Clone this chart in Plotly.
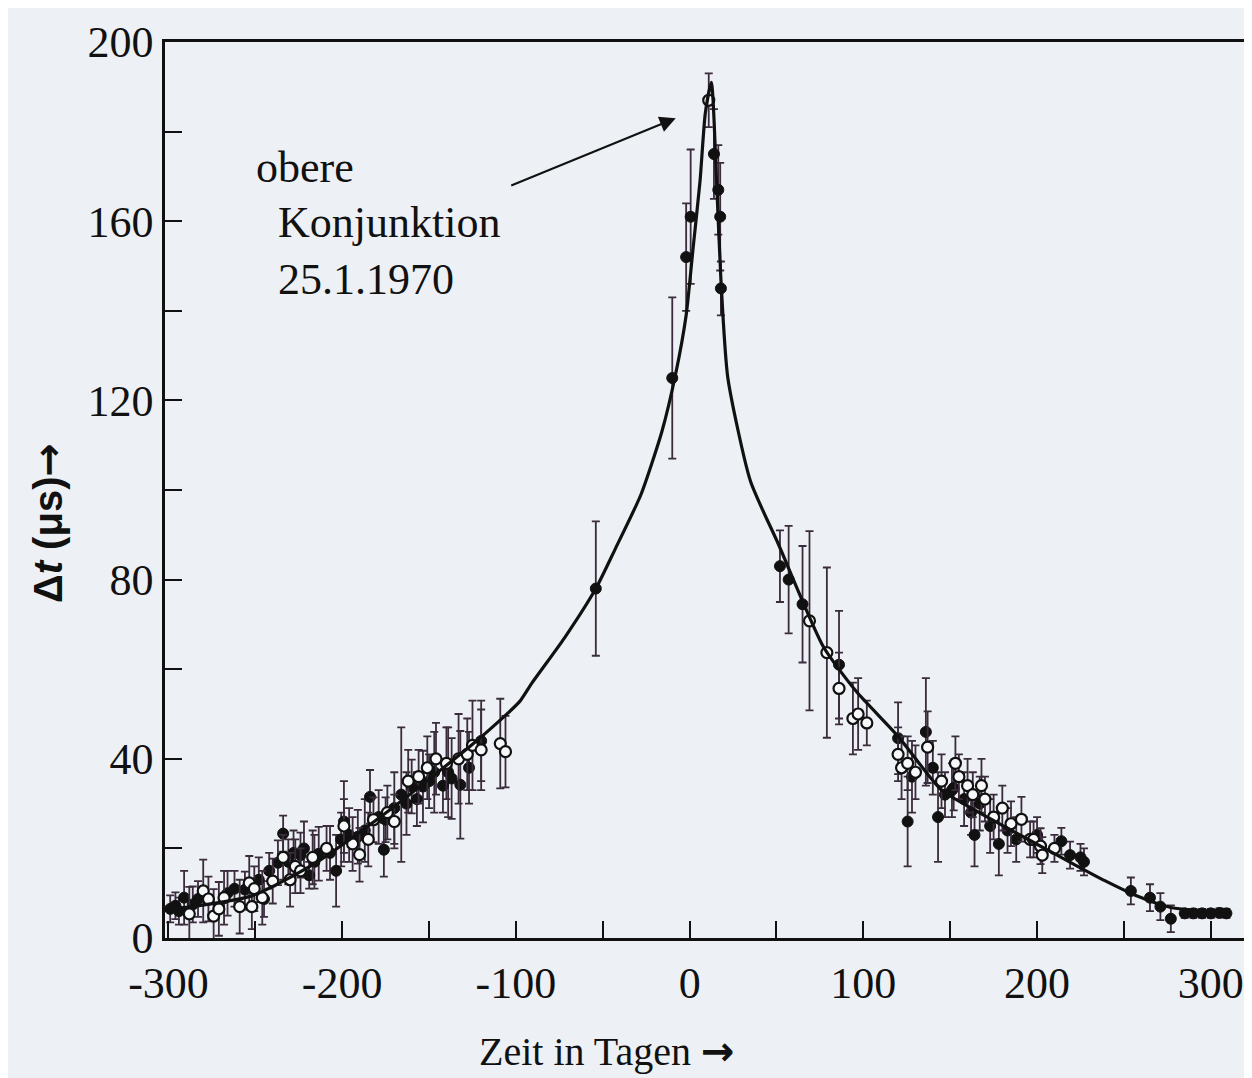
import plotly.graph_objects as go

# Theoretical curve
curve_x = [-300, -252, -216, -174, -126, -110, -98, -91, -72, -54, -43, -28, -16, -8, -2, 2, 6, 9, 12.5, 15.5, 18, 22, 35, 51, 77, 96, 120, 145, 164, 183, 201, 221, 239, 258, 277, 305]
curve_y = [6.3, 9.4, 16.6, 28.2, 42.9, 48.3, 52.7, 56.8, 67, 78, 86.7, 99, 113, 126, 139, 154, 169, 184, 191, 169, 147, 125, 102, 88, 65, 55, 45, 33, 28.6, 24.5, 20.7, 16.5, 12.8, 9.3, 6.8, 5.8]

# Filled-circle measurements
filled_x = [-299, -296, -294, -291, -286, -283, -266, -262, -256, -248, -245, -242, -237, -234, -231, -228, -224, -222, -219, -216, -213.5, -207, -203.5, -200.6, -199, -196, -191, -187, -184, -179, -176, -175, -170, -166, -163, -160, -157, -153.5, -150, -147, -142, -139, -137, -132, -127, -120, -54, -10, -2, 0.6, 14, 16.5, 17.6, 18, 52, 57, 65, 86, 120, 125.5, 128, 136, 140, 143, 147, 151, 152, 158, 162, 164, 167, 173, 178, 183, 188, 200, 214, 219, 225, 227, 254, 265, 271, 277, 285, 290, 295, 300, 305, 309]
filled_y = [6.5, 7.2, 6, 9, 7.5, 8.7, 10, 11, 10.8, 13, 8.7, 15, 16.8, 23.3, 17, 19, 18.5, 20, 14, 17, 18.8, 19, 15, 22, 26, 23, 22.6, 24, 31.5, 27, 19.7, 26.4, 29, 32, 30, 33.8, 31, 33.8, 35, 37, 34, 37, 35.6, 34.2, 38, 44, 78, 125, 152, 161, 175, 167, 161, 145, 83, 80, 74.5, 61, 44.6, 26, 36, 46, 38, 27, 32, 33, 33.5, 31, 28, 23, 30, 25, 21, 24, 22, 23, 21.6, 18.5, 18, 17, 10.5, 9, 7, 4.3, 5.5, 5.5, 5.5, 5.5, 5.6, 5.5]
filled_err = [3, 3, 3, 6, 4, 4, 5, 4, 4, 5, 4, 4, 5, 4, 5, 5, 5, 6, 3, 6, 6, 6, 8, 6, 9, 6, 6, 7, 6, 6, 6, 5, 8, 15, 7, 6, 6, 8, 6, 9, 6, 10, 9, 12, 8, 9, 15, 18, 12, 15, 10, 10, 12, 6, 8, 12, 13, 12, 8, 10, 8, 12, 6, 10, 5, 6, 5, 6, 5, 7, 6, 6, 7, 5, 5, 4, 3, 3, 3, 3, 3, 3, 3, 3, 1, 1, 1, 1, 1, 1]

# Open-circle measurements
open_x = [-288, -280, -277, -274, -271, -268, -259, -253.5, -252, -250.6, -246, -240, -234, -230, -227, -224, -217, -209, -199, -194, -190, -185, -182, -174, -170, -162, -156, -151, -146, -140, -133, -128, -125, -120, -109, -106, 11, 69, 79, 86, 94, 97, 102, 120, 122, 125.5, 130, 137, 145, 153, 155, 160, 163, 168, 170, 175, 180, 185, 191, 196, 198, 202, 203, 210]
open_y = [5.4, 10.5, 8.7, 4.9, 6.5, 9, 7, 12.3, 7, 11, 9, 12.7, 18, 13, 16, 15, 18, 20, 25, 21, 18.6, 22, 26.4, 28, 26, 35, 36, 38, 40, 39, 40, 41, 43, 42, 43.4, 41.6, 187, 70.8, 63.7, 55.7, 49, 50, 48, 41, 38, 39, 37, 42.6, 35, 39, 36, 34, 32, 34, 31, 27, 29, 25.5, 26.5, 22, 22, 20.5, 18.5, 20]
open_err = [6, 7, 5, 6, 6, 6, 6, 6, 5, 5, 6, 5, 5, 6, 6, 5, 6, 5, 6, 6, 6, 6, 5, 6, 6, 7, 6, 7, 8, 8, 10, 8, 10, 9, 10, 8, 6, 20, 19, 8, 8, 8, 5, 6, 7, 6, 6, 8, 6, 6, 5, 6, 5, 6, 5, 5, 5, 5, 5, 4, 4, 4, 4, 3]

x_tickvals = [-300, -200, -100, 0, 100, 200, 300]
x_ticktext = ["-300", "-200", "-100", "0", "100", "200", "300"]
y_tickvals = [0, 40, 80, 120, 160, 200]

PAPER = "#edf0f4"
INK = "#111111"
BAR = "#3a2c3c"
SERIF = "Liberation Serif, Times New Roman, serif"
ARROW = '<span style="font-family:DejaVu Sans;font-weight:bold">→</span>'

fig = go.Figure()

fig.add_trace(go.Scatter(
    x=filled_x, y=filled_y, mode="markers",
    error_y=dict(type="data", array=filled_err, visible=True, color=BAR, thickness=1.8, width=4),
    marker=dict(symbol="circle", size=11, color=INK, line=dict(color=INK, width=1)),
    showlegend=False, cliponaxis=False))

fig.add_trace(go.Scatter(
    x=open_x, y=open_y, mode="markers",
    error_y=dict(type="data", array=open_err, visible=True, color=BAR, thickness=1.8, width=4),
    marker=dict(symbol="circle", size=11, color="#f7f8fa", line=dict(color=INK, width=2.2)),
    showlegend=False, cliponaxis=False))

fig.add_trace(go.Scatter(
    x=curve_x, y=curve_y, mode="lines",
    line=dict(color=INK, width=3.2, shape="spline", smoothing=0.6),
    showlegend=False))

fig.update_layout(
    width=1252, height=1078,
    paper_bgcolor=PAPER, plot_bgcolor=PAPER,
    margin=dict(l=157, r=8, t=34, b=148),
    font=dict(family=SERIF, color=INK),
)

fig.update_xaxes(
    range=[-302, 322], showgrid=False, zeroline=False,
    showline=True, linecolor=INK, linewidth=2.5, mirror=True,
    ticks="inside", ticklen=17, tickwidth=2, tickcolor=INK,
    tickvals=x_tickvals, ticktext=x_ticktext,
    tickfont=dict(family=SERIF, size=44, color=INK),
    ticklabelstandoff=4,
    minor=dict(dtick=50, tick0=0, ticks="inside", ticklen=17, tickwidth=2, tickcolor=INK, showgrid=False),
)
fig.update_yaxes(
    range=[0, 200], showgrid=False, zeroline=False,
    showline=True, linecolor=INK, linewidth=2.5, mirror=True,
    ticks="inside", ticklen=17, tickwidth=2, tickcolor=INK,
    tickvals=y_tickvals,
    tickfont=dict(family=SERIF, size=44, color=INK),
    minor=dict(dtick=20, tick0=0, ticks="inside", ticklen=17, tickwidth=2, tickcolor=INK, showgrid=False),
)

# Axis titles
fig.add_annotation(xref="paper", yref="paper", x=0.4075, y=-0.126,
                   text="Zeit in Tagen " + ARROW, showarrow=False,
                   font=dict(family=SERIF, size=40, color=INK),
                   xanchor="center", yanchor="middle")
fig.add_annotation(xref="paper", yref="paper", x=-0.108, y=0.463,
                   text="<b>Δ<i>t</i> (μs)</b>" + ARROW, showarrow=False, textangle=-90,
                   font=dict(family="Liberation Sans, Arial, sans-serif", size=40, color=INK),
                   xanchor="center", yanchor="middle")

# Label text
fig.add_annotation(x=-251, y=172, text="obere", showarrow=False, xanchor="left", yanchor="middle",
                   font=dict(family=SERIF, size=44, color=INK))
fig.add_annotation(x=-238, y=159.6, text="Konjunktion", showarrow=False, xanchor="left", yanchor="middle",
                   font=dict(family=SERIF, size=44, color=INK))
fig.add_annotation(x=-238, y=146.9, text="25.1.1970", showarrow=False, xanchor="left", yanchor="middle",
                   font=dict(family=SERIF, size=44, color=INK))

# Arrow to conjunction
fig.add_annotation(x=-8, y=183, ax=-166, ay=68, text="", showarrow=True,
                   arrowhead=2, arrowsize=1.6, arrowwidth=2, arrowcolor=INK)

fig.write_html("out.html")
